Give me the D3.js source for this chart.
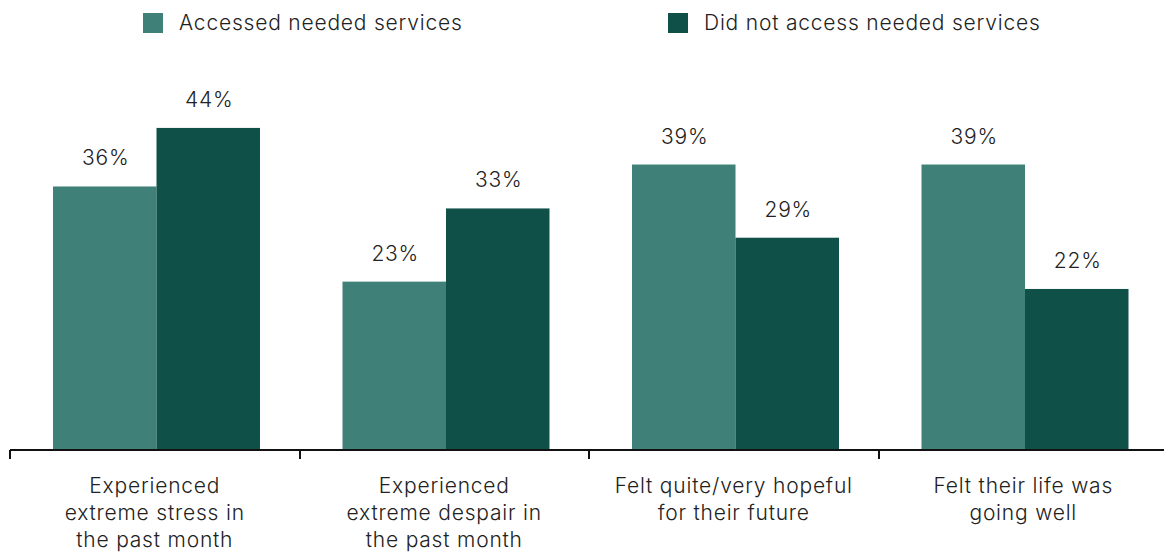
<!DOCTYPE html>
<html>
<head>
<meta charset="utf-8">
<script src="https://cdn.jsdelivr.net/npm/d3@7"></script>
<style>
  html, body { margin: 0; padding: 0; background: #fff; }
  svg { display: block; font-family: Inter, Roboto, "Noto Sans", sans-serif; font-weight: 300; letter-spacing: 0.8px; }
</style>
</head>
<body>
<svg id="chart" width="1164" height="552"></svg>
<script>
// Outcomes by whether young people accessed the services they needed
const categories = [
  ["Experienced", "extreme stress in", "the past month"],
  ["Experienced", "extreme despair in", "the past month"],
  ["Felt quite/very hopeful", "for their future"],
  ["Felt their life was", "going well"]
];
const seriesNames = ["Accessed needed services", "Did not access needed services"];
const accessed = [36, 23, 39, 39];
const notAccessed = [44, 33, 29, 22];
const seriesColors = ["#3f8078", "#0f5148"];

const svg = d3.select("#chart");
const baseY = 450;
const fontSize = 21;

const x = d3.scaleBand()
  .domain(d3.range(categories.length))
  .range([10, 1168])
  .paddingInner(0)
  .paddingOuter(0);

const xSub = d3.scaleBand()
  .domain([0, 1])
  .range([43, 43 + 207]);

const y = d3.scaleLinear()
  .domain([0, 50])
  .range([baseY, 84]);

const seriesValues = [accessed, notAccessed];

// Bars
seriesValues.forEach((vals, s) => {
  svg.append("g").selectAll("rect")
    .data(vals)
    .join("rect")
    .attr("x", (d, i) => x(i) + xSub(s))
    .attr("y", d => y(d))
    .attr("width", xSub.bandwidth())
    .attr("height", d => y(0) - y(d))
    .attr("fill", seriesColors[s]);

  svg.append("g").selectAll("text")
    .data(vals)
    .join("text")
    .attr("x", (d, i) => x(i) + xSub(s) + xSub.bandwidth() / 2 + 1)
    .attr("y", d => y(d) - 21)
    .attr("text-anchor", "middle")
    .attr("font-size", fontSize)
    .attr("fill", "#222")
    .text(d => d + "%");
});

// Axis baseline and group separators
const axis = svg.append("g");
axis.append("line")
  .attr("x1", 10).attr("x2", 1164)
  .attr("y1", baseY).attr("y2", baseY)
  .attr("stroke", "#111").attr("stroke-width", 2);
axis.selectAll("line.tick")
  .data(d3.range(categories.length + 1))
  .join("line")
  .attr("class", "tick")
  .attr("x1", i => Math.round(x(0) + i * x.step()))
  .attr("x2", i => Math.round(x(0) + i * x.step()))
  .attr("y1", baseY)
  .attr("y2", baseY + 9)
  .attr("stroke", "#111").attr("stroke-width", 2);

// Category labels
categories.forEach((lines, i) => {
  const cx = x(i) + x.bandwidth() / 2;
  const t = svg.append("text")
    .attr("x", cx)
    .attr("y", 493)
    .attr("text-anchor", "middle")
    .attr("font-size", fontSize)
    .attr("fill", "#222");
  lines.forEach((ln, j) => {
    t.append("tspan")
      .attr("x", cx)
      .attr("dy", j === 0 ? 0 : 27)
      .text(ln);
  });
});

// Legend
const legendX = [143, 668];
seriesNames.forEach((name, s) => {
  const g = svg.append("g").attr("transform", `translate(${legendX[s]},13)`);
  g.append("rect").attr("width", 20).attr("height", 20).attr("fill", seriesColors[s]);
  g.append("text")
    .attr("x", 36).attr("y", 17)
    .attr("font-size", fontSize)
    .attr("fill", "#222")
    .text(name);
});
</script>
</body>
</html>
